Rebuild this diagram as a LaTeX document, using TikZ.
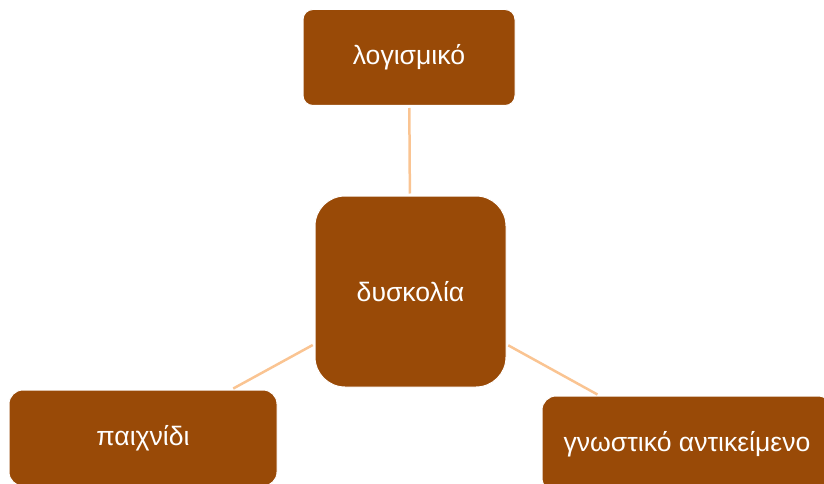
\documentclass[tikz,border=0pt]{standalone}
\usepackage{fontspec}
\setmainfont{Liberation Sans}
\definecolor{boxbrown}{RGB}{153,74,7}
\definecolor{linepeach}{RGB}{250,196,146}
\begin{document}
\begin{tikzpicture}[x=1pt,y=-1pt,
  box/.style={draw=white,line width=1pt,fill=boxbrown,text=white,
    font=\fontsize{26.6}{32}\selectfont,inner sep=0pt,anchor=center},
  conn/.style={draw=linepeach,line width=2.5pt,shorten <=2pt,shorten >=2pt}]
\useasboundingbox (0,0) rectangle (824,484);
\node[box,minimum width=212pt,minimum height=96pt,rounded corners=10pt] (top) at (409,57.5) {λογισμικό};
\node[box,minimum width=191pt,minimum height=191pt,rounded corners=30pt] (mid) at (410.5,291.5) {δυσκολία};
\node[box,minimum width=268pt,minimum height=96pt,rounded corners=14pt] (left) at (143,438) {παιχνίδι};
\node[box,minimum width=290pt,minimum height=96pt,rounded corners=14pt] (right) at (687,444) {γνωστικό αντικείμενο};
\draw[conn] (top) -- (mid);
\draw[conn] (mid) -- (left);
\draw[conn] (mid) -- (right);
\end{tikzpicture}
\end{document}
